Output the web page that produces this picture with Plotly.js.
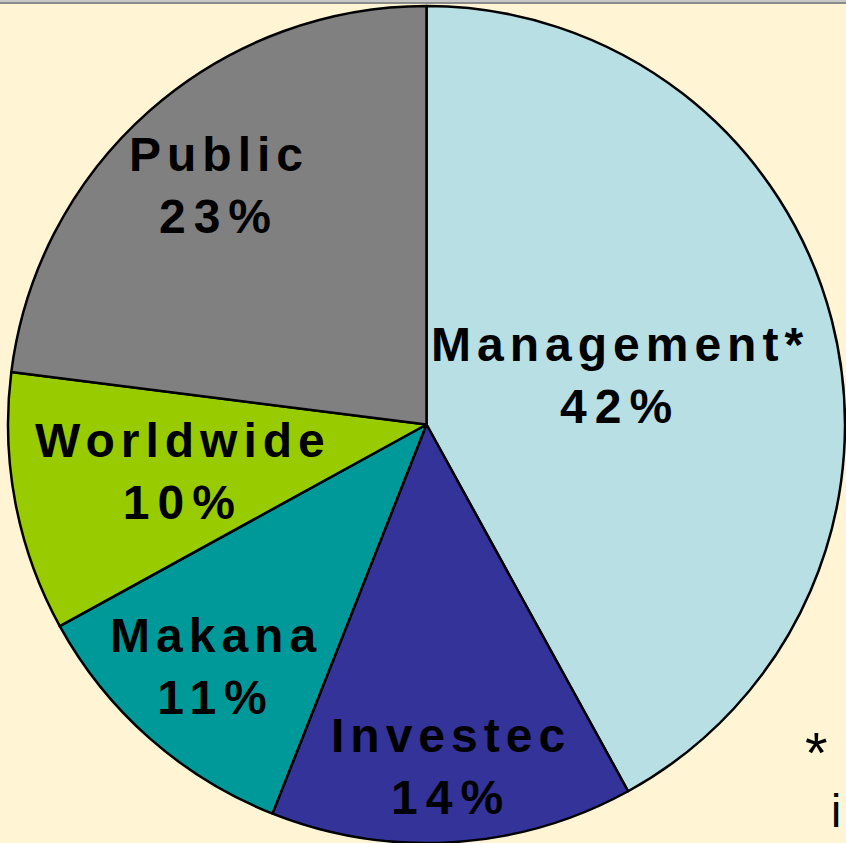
<!DOCTYPE html>
<html>
<head>
<meta charset="utf-8">
<script src="https://cdn.plot.ly/plotly-3.0.1.min.js"></script>
<style>
  html, body { margin: 0; padding: 0; background: #FFF5D5; }
  #chart { width: 846px; height: 843px; }
  g.annotation:not([data-index="5"]):not([data-index="6"]) text.annotation-text { letter-spacing: 6px; }
</style>
</head>
<body>
<div id="chart"></div>
<script>
// ---- data ----
const labels = ["Management*", "Investec", "Makana", "Worldwide", "Public"];
const values = [42, 14, 11, 10, 23];
const colors = ["#B8DFE3", "#333399", "#009999", "#99CC00", "#808080"];
// radial position of each label as a fraction of the radius (style)
const labelRadius = [0.47, 0.82, 0.77, 0.60, 0.76];
const footnoteChars = ["*", "i"];

// ---- layout geometry ----
const W = 846, H = 843;
const M = { l: 7, r: 0, t: 6, b: 0 };
const pw = W - M.l - M.r, ph = H - M.t - M.b;
const R = Math.min(pw, ph) / 2;
const cx = M.l + pw / 2, cy = M.t + ph / 2;
const toPX = px => (px - M.l) / pw;
const toPY = py => 1 - (py - M.t) / ph;

// label positions from the data: bisector angle of each slice (clockwise from 12 o'clock)
const total = values.reduce((a, b) => a + b, 0);
let cum = 0;
const annotations = [];
values.forEach((v, i) => {
  const mid = (cum + v / 2) / total * 2 * Math.PI;
  cum += v;
  const px = cx + Math.sin(mid) * R * labelRadius[i];
  const py = cy - Math.cos(mid) * R * labelRadius[i];
  annotations.push({
    xref: "paper", yref: "paper",
    x: toPX(px + 3), y: toPY(py),
    xanchor: "center", yanchor: "middle",
    showarrow: false,
    text: labels[i] + "<br><span style=\"letter-spacing:8px\">" + Math.round(v / total * 100) + "%</span>",
    font: { family: "Liberation Sans, Arial, sans-serif", size: 48, weight: "bold", color: "#000000" }
  });
});

// cut-off footnote text at the bottom right
annotations.push({
  xref: "paper", yref: "paper", x: toPX(805), y: toPY(752),
  xanchor: "left", yanchor: "middle", showarrow: false, align: "left",
  borderpad: 0, borderwidth: 0,
  text: footnoteChars[0],
  font: { family: "Liberation Sans, Arial, sans-serif", size: 58, color: "#000000" }
});
annotations.push({
  xref: "paper", yref: "paper", x: toPX(831), y: toPY(811),
  xanchor: "left", yanchor: "middle", showarrow: false, align: "left",
  borderpad: 0, borderwidth: 0,
  text: footnoteChars[1],
  font: { family: "Liberation Sans, Arial, sans-serif", size: 46, color: "#000000" }
});

const trace = {
  type: "pie",
  labels: labels,
  values: values,
  sort: false,
  direction: "clockwise",
  rotation: 0,
  textinfo: "none",
  hoverinfo: "label+percent",
  marker: { colors: colors, line: { color: "#000000", width: 2.5 } },
  showlegend: false
};

const layout = {
  width: W, height: H,
  margin: M,
  paper_bgcolor: "#FFF5D5",
  plot_bgcolor: "#FFF5D5",
  showlegend: false,
  annotations: annotations,
  shapes: [
    { type: "line", xref: "paper", yref: "paper",
      x0: toPX(0), x1: toPX(W), y0: toPY(1), y1: toPY(1),
      line: { color: "#C8C8C8", width: 2 } },
    { type: "line", xref: "paper", yref: "paper",
      x0: toPX(0), x1: toPX(W), y0: toPY(3), y1: toPY(3),
      line: { color: "#8C8C8C", width: 2 } }
  ]
};

Plotly.newPlot("chart", [trace], layout, { displayModeBar: false, staticPlot: true });
</script>
</body>
</html>
